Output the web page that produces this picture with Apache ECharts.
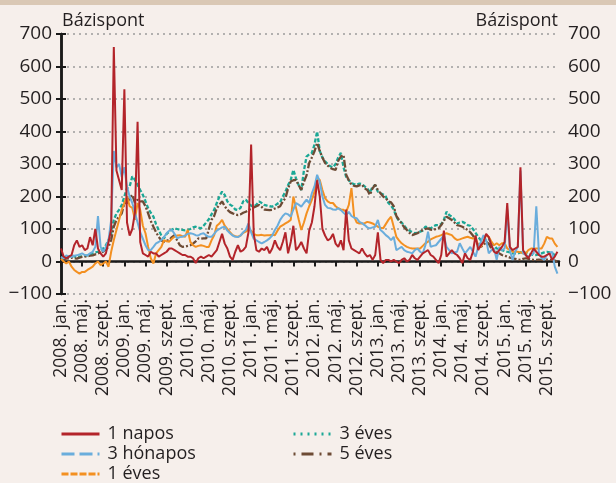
<!DOCTYPE html>
<html>
<head>
<meta charset="utf-8">
<script src="https://cdn.jsdelivr.net/npm/echarts@6/dist/echarts.min.js"></script>
<style>
html, body { margin: 0; padding: 0; background: #f6efeb; }
#chart { width: 616px; height: 483px; }
</style>
</head>
<body>
<div id="chart"></div>
<script>
// x tick labels, one per 4 months from 2008 Jan
var tickLabels = [
  "2008. jan.", "2008. máj.", "2008. szept.",
  "2009. jan.", "2009. máj.", "2009. szept.",
  "2010. jan.", "2010. máj.", "2010. szept.",
  "2011. jan.", "2011. máj.", "2011. szept.",
  "2012. jan.", "2012. máj.", "2012. szept.",
  "2013. jan.", "2013. máj.", "2013. szept.",
  "2014. jan.", "2014. máj.", "2014. szept.",
  "2015. jan.", "2015. máj.", "2015. szept."
];

// values are every half month, starting 2008 Jan (basis points)
var step = 0.5;

var napos1 = [
  40, 15, 10, 15, 20, 50, 65, 45, 50, 35, 40, 75, 50, 100, 40, 25, 15, 25, 60, 100, 660, 280, 250, 220,
  530, 120, 80, 100, 150, 430, 60, 25, 20, 15, 30, 25, 25, 15, 20, 25, 30, 40, 40, 35, 30, 25, 20, 20,
  15, 15, 10, -5, 10, 15, 10, 15, 20, 15, 25, 35, 60, 85, 55, 40, 15, 5, 30, 50, 30, 35, 45, 90,
  360, 85, 35, 30, 40, 35, 45, 25, 40, 65, 45, 35, 60, 90, 25, 60, 110, 35, 45, 60, 40, 25, 95, 120,
  170, 250, 200, 100, 80, 65, 70, 85, 55, 45, 65, 35, 160, 65, 40, 35, 30, 25, 40, 25, 15, 20, 5, 20,
  90, 5, -5, 5, 5, 0, 5, 0, -5, 5, 10, 0, 5, 20, 10, 5, 15, 25, 30, 35, 20, 15, 5, -5,
  20, 95, 15, 25, 35, 25, 20, 10, -5, 25, 10, 5, 30, 80, 35, 50, 60, 85, 75, 50, 30, 25, 35, 45,
  60, 180, 45, 35, 40, 45, 290, 35, 20, 10, 25, 40, 30, 20, 15, 15, 20, 25, 5, 15, 30
];

var honapos3 = [
  14, 10, 19, 15, 14, 18, 19, 22, 25, 20, 19, 25, 30, 45, 140, 45, 30, 45, 66, 128, 340, 290, 300, 260,
  290, 230, 200, 180, 150, 120, 90, 70, 50, 35, 35, 45, 56, 60, 66, 75, 87, 95, 97, 85, 71, 75, 76, 80,
  85, 87, 85, 81, 80, 85, 87, 80, 76, 76, 85, 95, 100, 105, 107, 95, 87, 80, 76, 75, 80, 90, 97, 117,
  90, 70, 65, 60, 56, 60, 65, 71, 80, 97, 110, 128, 140, 148, 145, 138, 160, 180, 175, 169, 180, 190, 180, 210,
  231, 267, 245, 200, 174, 165, 164, 160, 159, 164, 158, 150, 143, 153, 140, 135, 133, 122, 118, 112, 105, 102, 105, 107,
  128, 97, 90, 81, 75, 66, 76, 35, 40, 45, 35, 30, 28, 25, 35, 40, 30, 25, 50, 92, 45, 48, 50, 60,
  70, 81, 45, 35, 25, 28, 30, 56, 40, 25, 35, 45, 30, 15, 45, 60, 81, 66, 25, 35, 40, 5, 45, 35,
  40, 160, 35, 5, 30, 45, 280, 25, 20, 15, 20, 25, 170, 25, 10, 5, 20, 25, 30, -16, -37
];

var eves1 = [
  9, 0, -6, 0, -16, -26, -32, -37, -32, -32, -26, -21, -16, -6, 0, -11, -6, 0, -16, 30, 66, 97, 128, 159,
  180, 200, 170, 165, 128, 180, 159, 110, 87, 45, 10, -6, 25, 35, 45, 66, 62, 61, 70, 76, 80, 81, 78, 76,
  97, 60, 50, 45, 48, 50, 48, 45, 45, 65, 81, 110, 117, 128, 110, 100, 90, 81, 78, 76, 80, 88, 92, 97,
  95, 85, 81, 81, 82, 80, 81, 81, 82, 81, 95, 107, 112, 117, 122, 128, 200, 165, 130, 97, 120, 148, 170, 190,
  215, 256, 251, 220, 195, 185, 180, 180, 170, 164, 160, 159, 153, 174, 226, 138, 120, 117, 117, 118, 122, 120, 117, 112,
  107, 104, 102, 115, 128, 138, 107, 76, 65, 56, 50, 45, 42, 40, 40, 40, 40, 48, 56, 61, 68, 72, 76, 78,
  81, 85, 87, 84, 81, 72, 66, 68, 71, 74, 76, 73, 71, 71, 50, 45, 61, 81, 76, 61, 50, 56, 50, 56,
  56, 40, 35, 30, 30, 30, 28, 25, 25, 35, 40, 40, 40, 40, 40, 55, 76, 71, 71, 55, 45
];

var eves3 = [
  9, 10, 14, 15, 19, 16, 14, 15, 16, 18, 19, 22, 25, 28, 30, 35, 40, 50, 66, 87, 128, 148, 159, 174,
  200, 226, 231, 262, 251, 236, 220, 205, 185, 164, 150, 138, 115, 97, 80, 71, 85, 92, 98, 102, 100, 98, 97, 96,
  97, 100, 105, 107, 104, 102, 110, 120, 130, 145, 159, 180, 200, 215, 205, 185, 175, 170, 160, 159, 165, 185, 190, 180,
  172, 169, 175, 185, 180, 174, 172, 170, 169, 172, 178, 182, 200, 215, 235, 251, 282, 256, 235, 220, 280, 323, 330, 334,
  360, 400, 340, 320, 308, 300, 293, 290, 300, 320, 334, 290, 260, 250, 241, 238, 236, 240, 238, 231, 225, 212, 230, 235,
  215, 210, 206, 200, 180, 172, 160, 138, 125, 120, 110, 100, 95, 90, 87, 88, 92, 95, 107, 105, 102, 108, 112, 112,
  115, 128, 153, 143, 138, 130, 117, 120, 122, 118, 112, 110, 100, 88, 76, 65, 61, 68, 71, 55, 50, 40, 38, 35,
  32, 30, 28, 25, 25, 25, 28, 30, 26, 25, 22, 20, 20, 22, 25, 28, 30, 28, 25, 20, 15
];

var eves5 = [
  6, 7, 9, 10, 12, 10, 9, 12, 14, 15, 16, 18, 19, 22, 25, 28, 30, 38, 45, 66, 107, 128, 138, 148,
  180, 180, 195, 205, 180, 190, 185, 185, 170, 148, 125, 107, 90, 76, 65, 61, 64, 66, 75, 81, 65, 50, 45, 46,
  48, 50, 55, 62, 71, 70, 71, 71, 100, 128, 140, 164, 175, 185, 170, 159, 152, 148, 145, 143, 145, 150, 153, 158,
  162, 166, 170, 174, 168, 160, 159, 158, 159, 163, 166, 170, 185, 195, 225, 246, 250, 251, 235, 220, 245, 265, 303, 320,
  339, 365, 340, 320, 303, 295, 288, 284, 282, 310, 323, 328, 267, 250, 236, 233, 231, 234, 236, 225, 220, 205, 225, 236,
  220, 210, 200, 195, 185, 182, 170, 140, 128, 117, 105, 97, 88, 81, 84, 87, 92, 97, 100, 102, 98, 97, 100, 102,
  112, 125, 138, 133, 128, 120, 112, 110, 107, 102, 97, 90, 80, 65, 50, 45, 50, 61, 55, 40, 35, 30, 25, 20,
  18, 15, 12, 10, 8, 6, 5, 8, 10, 8, 6, 5, 5, 6, 5, 5, 6, 5, 5, 3, 0
];

function toPoints(arr) {
  return arr.map(function (v, i) { return [i * step, v]; });
}

var font = "'Open Sans', sans-serif";
var ink = "#231f20";
var colors = {
  napos1: "#b3242a",
  honapos3: "#6aaddc",
  eves1: "#f39021",
  eves3: "#1ba896",
  eves5: "#6d4b35"
};

function minusFmt(v) {
  return v < 0 ? "\u2212" + (-v) : String(v);
}

var myChart = echarts.init(document.getElementById("chart"));

var yBase = {
  type: "value",
  min: -100,
  max: 700,
  interval: 100,
  axisLine: { show: true, lineStyle: { color: "#1a1a1a", width: 2.5 } },
  axisTick: { show: true, length: 5, lineStyle: { color: "#1a1a1a", width: 2 } },
  axisLabel: { fontSize: 19, color: ink, margin: 9, fontFamily: font, formatter: minusFmt }
};

var legendText = { fontSize: 18, color: ink, fontFamily: font, padding: [0, 0, 0, 3] };
var hideDot = { opacity: 0 };

myChart.setOption({
  backgroundColor: "#f6efeb",
  animation: false,
  textStyle: { fontFamily: font },
  graphic: [
    { type: "rect", shape: { x: 0, y: 0, width: 616, height: 5 }, style: { fill: "#dac8b5" } },
    { type: "text", left: 62, top: 12, style: { text: "Bázispont", font: "18px " + font, fill: ink } },
    { type: "text", right: 58, top: 12, style: { text: "Bázispont", font: "18px " + font, fill: ink } }
  ],
  grid: { left: 61, right: 57, top: 34, bottom: 189, outerBoundsMode: "none", containLabel: false },
  xAxis: [
    {
      type: "value",
      position: "bottom",
      min: 0,
      max: 94.3,
      interval: 4,
      axisLine: { onZero: true, lineStyle: { color: "#1a1a1a", width: 2.5 } },
      axisTick: { show: true, length: 5, lineStyle: { color: "#1a1a1a", width: 2 } },
      axisLabel: { show: false },
      splitLine: { show: false }
    },
    {
      type: "value",
      position: "bottom",
      min: 0,
      max: 94.3,
      interval: 4,
      axisLine: { show: false, onZero: false },
      axisTick: { show: false },
      splitLine: { show: false },
      axisLabel: {
        rotate: 90,
        margin: 5,
        fontSize: 17.5,
        color: ink,
        fontFamily: font,
        formatter: function (v) {
          var k = v / 4;
          return Number.isInteger(k) && k < tickLabels.length ? tickLabels[k] : "";
        }
      }
    }
  ],
  yAxis: [
    Object.assign({}, yBase, {
      position: "left",
      splitLine: { show: true, lineStyle: { color: "#9c9c9c", width: 1.5, type: [2, 4] } }
    }),
    Object.assign({}, yBase, {
      position: "right",
      splitLine: { show: false }
    })
  ],
  legend: [
    {
      orient: "vertical",
      left: 55,
      top: 420,
      height: 120,
      itemWidth: 38,
      itemHeight: 14,
      itemGap: 2,
      selectedMode: false,
      textStyle: legendText,
      data: [
        { name: "1 napos", itemStyle: hideDot, lineStyle: { width: 3, type: "solid" } },
        { name: "3 hónapos", itemStyle: hideDot, lineStyle: { width: 3, type: [13, 5] } },
        { name: "1 éves", itemStyle: hideDot, lineStyle: { width: 3, type: [7, 2] } }
      ]
    },
    {
      orient: "vertical",
      left: 287,
      top: 420,
      height: 120,
      itemWidth: 38,
      itemHeight: 14,
      itemGap: 2,
      selectedMode: false,
      textStyle: legendText,
      data: [
        { name: "3 éves", itemStyle: hideDot, lineStyle: { width: 3, type: [2, 5] } },
        { name: "5 éves", itemStyle: hideDot, lineStyle: { width: 3, type: [2, 6, 12, 6] } }
      ]
    }
  ],
  series: [
    {
      name: "3 éves",
      type: "line",
      symbol: "none",
      data: toPoints(eves3),
      itemStyle: { color: colors.eves3 },
      lineStyle: { color: colors.eves3, width: 2.3, type: [4, 2] }
    },
    {
      name: "5 éves",
      type: "line",
      symbol: "none",
      data: toPoints(eves5),
      itemStyle: { color: colors.eves5 },
      lineStyle: { color: colors.eves5, width: 2.3, type: [8, 2, 2, 2] }
    },
    {
      name: "1 éves",
      type: "line",
      symbol: "none",
      data: toPoints(eves1),
      itemStyle: { color: colors.eves1 },
      lineStyle: { color: colors.eves1, width: 2 }
    },
    {
      name: "3 hónapos",
      type: "line",
      symbol: "none",
      data: toPoints(honapos3),
      itemStyle: { color: colors.honapos3 },
      lineStyle: { color: colors.honapos3, width: 2 }
    },
    {
      name: "1 napos",
      type: "line",
      symbol: "none",
      data: toPoints(napos1),
      itemStyle: { color: colors.napos1 },
      lineStyle: { color: colors.napos1, width: 2 }
    }
  ]
});
</script>
</body>
</html>
